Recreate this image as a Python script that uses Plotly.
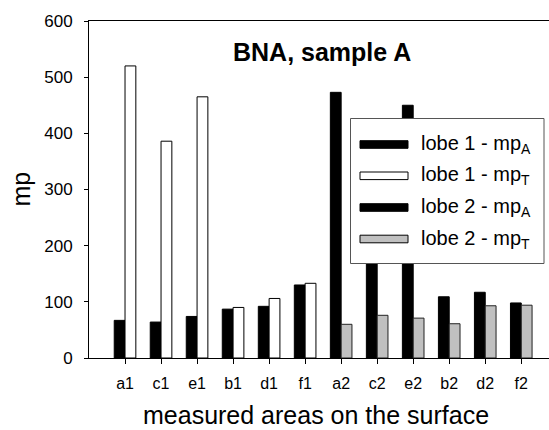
import plotly.graph_objects as go

categories = ['a1', 'c1', 'e1', 'b1', 'd1', 'f1', 'a2', 'c2', 'e2', 'b2', 'd2', 'f2']
lobe1_cats = categories[:6]
lobe2_cats = categories[6:]
lobe1_mpA = [67, 64, 74, 87, 92, 130]
lobe1_mpT = [520, 386, 465, 90, 106, 133]
lobe2_mpA = [473, 350, 450, 109, 117, 98]
lobe2_mpT = [60, 76, 71, 61, 93, 94]
y_ticks = [0, 100, 200, 300, 400, 500, 600]
legend_labels = ['lobe 1 - mp<sub>A</sub>', 'lobe 1 - mp<sub>T</sub>',
                 'lobe 2 - mp<sub>A</sub>', 'lobe 2 - mp<sub>T</sub>']
legend_fills = ['black', 'white', 'black', '#c0c0c0']

W, H = 549, 430
L, R, T, B = 89, 0, 21, 72
PW, PH = W - L - R, H - T - B
FONT = 'Liberation Sans, Arial, sans-serif'


def px(xp):
    return (xp - L) / PW


def py(yp):
    return (H - B - yp) / PH


fig = go.Figure()
fig.add_trace(go.Bar(x=lobe1_cats, y=lobe1_mpA, offsetgroup='A', name='lobe 1 - mpA',
                     marker=dict(color='black', line=dict(color='black', width=1))))
fig.add_trace(go.Bar(x=lobe1_cats, y=lobe1_mpT, offsetgroup='T', name='lobe 1 - mpT',
                     marker=dict(color='white', line=dict(color='black', width=1))))
fig.add_trace(go.Bar(x=lobe2_cats, y=lobe2_mpA, offsetgroup='A', name='lobe 2 - mpA',
                     marker=dict(color='black', line=dict(color='black', width=1))))
fig.add_trace(go.Bar(x=lobe2_cats, y=lobe2_mpT, offsetgroup='T', name='lobe 2 - mpT',
                     marker=dict(color='#c0c0c0', line=dict(color='#222222', width=1))))

shapes = []
annotations = []
# legend box
shapes.append(dict(type='rect', xref='paper', yref='paper', layer='above',
                   x0=px(350.5), x1=px(544), y0=py(118.5), y1=py(263.5),
                   fillcolor='white', line=dict(color='#555555', width=1)))
row_y = [144.5, 175.8, 207.5, 239.0]
for i, (lab, fc) in enumerate(zip(legend_labels, legend_fills)):
    yc = row_y[i]
    shapes.append(dict(type='rect', xref='paper', yref='paper', layer='above',
                       x0=px(360), x1=px(408), y0=py(yc + 3.8), y1=py(yc - 3.8),
                       fillcolor=fc, line=dict(color='black', width=1)))
    annotations.append(dict(text=lab, xref='paper', yref='paper', x=px(419), y=py(yc),
                            xanchor='left', yanchor='middle', showarrow=False,
                            font=dict(family=FONT, size=20, color='black')))

annotations.append(dict(text='<b>BNA, sample A</b>', xref='paper', yref='paper',
                        x=px(322), y=py(52.5), xanchor='center', yanchor='middle',
                        showarrow=False, font=dict(family=FONT, size=25, color='black')))
annotations.append(dict(text='measured areas on the surface', xref='paper', yref='paper',
                        x=px(316), y=py(430), xanchor='center', yanchor='bottom',
                        yshift=-0.5, showarrow=False,
                        font=dict(family=FONT, size=25, color='black')))
annotations.append(dict(text='mp', xref='paper', yref='paper', textangle=-90,
                        x=px(20), y=py(189.5), xanchor='center', yanchor='middle',
                        showarrow=False, font=dict(family=FONT, size=25, color='black')))

fig.update_layout(
    width=W, height=H,
    margin=dict(l=L, r=R, t=T, b=B, pad=0),
    paper_bgcolor='white', plot_bgcolor='white',
    barmode='group', bargap=0.4, bargroupgap=0,
    showlegend=False,
    shapes=shapes, annotations=annotations,
    font=dict(family=FONT, color='black'),
)
fig.update_xaxes(type='category', categoryorder='array', categoryarray=categories,
                 range=[-1, 11.77], showline=True, linecolor='black', linewidth=1,
                 mirror=True, ticks='outside', ticklen=5, tickcolor='black',
                 tickfont=dict(family=FONT, size=16, color='black'),
                 showgrid=False, zeroline=False, ticklabelstandoff=6)
fig.update_yaxes(range=[0, 600], tickvals=y_ticks, showline=True, linecolor='black',
                 linewidth=1, ticks='outside', ticklen=4, tickcolor='black',
                 tickfont=dict(family=FONT, size=17, color='black'),
                 showgrid=False, zeroline=False, ticklabelstandoff=8)

fig.write_html('out.html')
